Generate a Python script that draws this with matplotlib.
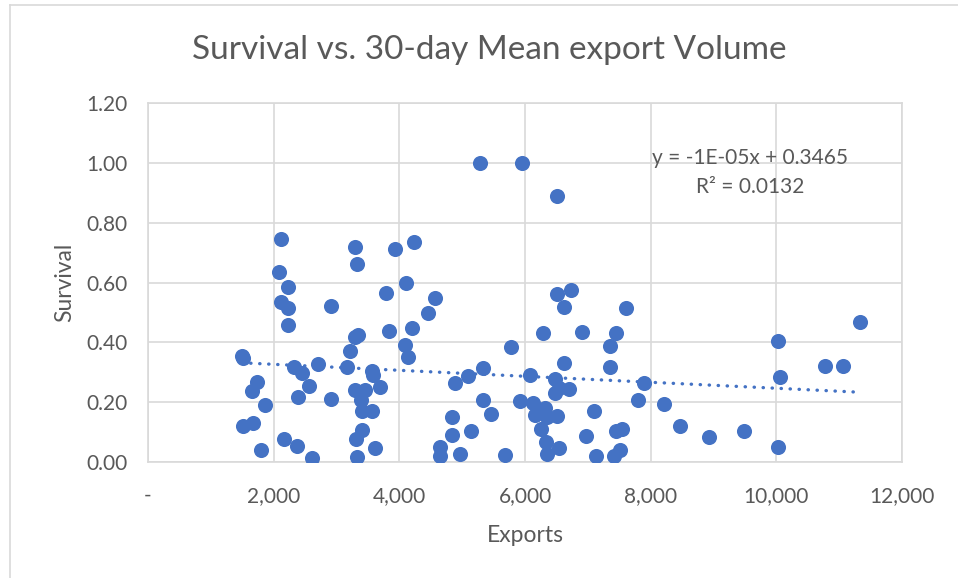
import matplotlib

matplotlib.use("Agg")
import matplotlib.pyplot as plt
import numpy as np
from matplotlib.ticker import FuncFormatter

# 30-day mean export volume vs. survival, one point per record
exports = [
    1491, 1517, 1651, 1730, 1863, 1517, 1666, 1799,
    2080, 2122, 2122, 2234, 2234, 2234, 2165, 2330, 2383, 2367, 2457, 2563,
    2606, 2713, 2908, 2913, 3163, 3216, 3296, 3327, 3296, 3349,
    3296, 3455, 3386, 3412, 3572, 3412, 3311, 3333, 3561, 3588,
    3693, 3614, 3784, 3842, 3932, 4090, 4112, 4144, 4207, 4235,
    4460, 4564, 4649, 4649, 4835, 4835, 4887, 4958, 5085, 5145,
    5285, 5338, 5338, 5461, 5683, 5779, 5922, 5954, 6081, 6135,
    6161, 6252, 6291, 6320, 6335, 6347, 6347, 6480, 6480, 6507,
    6507, 6507, 6534, 6548, 6613, 6613, 6693, 6730, 6914, 6973,
    7100, 7135, 7360, 7360, 7424, 7446, 7446, 7504, 7551, 7615,
    7795, 7890, 8220, 8459, 8936, 9493, 10020, 10020, 10052, 10778,
    11065, 11335,
]
survival = [
    0.355, 0.346, 0.238, 0.266, 0.189, 0.120, 0.129, 0.039,
    0.636, 0.745, 0.536, 0.586, 0.514, 0.458, 0.078, 0.316, 0.216, 0.053, 0.296, 0.255,
    0.015, 0.326, 0.522, 0.210, 0.318, 0.371, 0.720, 0.661, 0.417, 0.424,
    0.240, 0.240, 0.207, 0.171, 0.171, 0.106, 0.078, 0.017, 0.304, 0.290,
    0.251, 0.047, 0.564, 0.439, 0.713, 0.391, 0.598, 0.350, 0.447, 0.734,
    0.499, 0.549, 0.050, 0.020, 0.149, 0.089, 0.265, 0.028, 0.287, 0.105,
    1.000, 0.315, 0.207, 0.159, 0.025, 0.385, 0.204, 1.000, 0.290, 0.197,
    0.156, 0.109, 0.430, 0.179, 0.067, 0.151, 0.026, 0.279, 0.229, 0.888,
    0.561, 0.153, 0.246, 0.048, 0.519, 0.330, 0.243, 0.575, 0.433, 0.086,
    0.169, 0.019, 0.388, 0.318, 0.019, 0.432, 0.103, 0.039, 0.110, 0.514,
    0.207, 0.265, 0.193, 0.120, 0.082, 0.104, 0.050, 0.405, 0.285, 0.321,
    0.321, 0.469,
]

# linear trendline as reported on the chart
slope = -1e-05
intercept = 0.3465
r_squared = 0.0132

x_ticks = [0, 2000, 4000, 6000, 8000, 10000, 12000]
y_ticks = [0.0, 0.2, 0.4, 0.6, 0.8, 1.0, 1.2]

blue = "#4472C4"
text_gray = "#595959"
grid_gray = "#D9D9D9"

plt.rcParams["font.family"] = ["Lato", "DejaVu Sans"]

fig = plt.figure(figsize=(9.58, 5.78), dpi=100)
ax = fig.add_axes([148 / 958, 1 - 462 / 578, (902 - 148) / 958, (462 - 103) / 578])

ax.scatter(exports, survival, s=118, color=blue, linewidths=0, zorder=3)

trend_x = np.array([min(exports), max(exports)])
ax.plot(trend_x, slope * trend_x + intercept, color=blue, linewidth=2.4,
        linestyle=(0, (0.1, 2.6)), dash_capstyle="round", zorder=2)

ax.set_xlim(0, 12000)
ax.set_ylim(0, 1.2)
ax.set_xticks(x_ticks)
ax.set_yticks(y_ticks)
ax.xaxis.set_major_formatter(FuncFormatter(lambda v, _: "-" if v == 0 else f"{v:,.0f}"))
ax.yaxis.set_major_formatter(FuncFormatter(lambda v, _: f"{v:.2f}"))
ax.tick_params(length=0, labelsize=15, colors=text_gray)
ax.tick_params(axis="y", pad=15)
ax.tick_params(axis="x", pad=17)
ax.grid(True, color=grid_gray, linewidth=1.2)
ax.set_axisbelow(True)
for spine in ax.spines.values():
    spine.set_color(grid_gray)
    spine.set_linewidth(1.2)

ax.text(9584, 1.015, f"y = {slope:.0E}x + {intercept}",
        ha="center", va="center", fontsize=15, color=text_gray)
ax.text(9584, 0.918, f"R² = {r_squared}", ha="center", va="center",
        fontsize=15, color=text_gray)

ax.set_xlabel("Exports", fontsize=16.5, color=text_gray, labelpad=14)
ax.set_ylabel("Survival", fontsize=16.5, color=text_gray, labelpad=8)

fig.text(489 / 958, 1 - 50 / 578, "Survival vs. 30-day Mean export Volume",
         ha="center", va="center", fontsize=24, color=text_gray)

# light chart-area frame
fig.add_artist(plt.Line2D([10 / 958, 10 / 958], [0, 1 - 5 / 578], transform=fig.transFigure,
                          color=grid_gray, linewidth=1.2))
fig.add_artist(plt.Line2D([10 / 958, 1], [1 - 5 / 578, 1 - 5 / 578], transform=fig.transFigure,
                          color=grid_gray, linewidth=1.2))

fig.savefig("out.png", dpi=100)
